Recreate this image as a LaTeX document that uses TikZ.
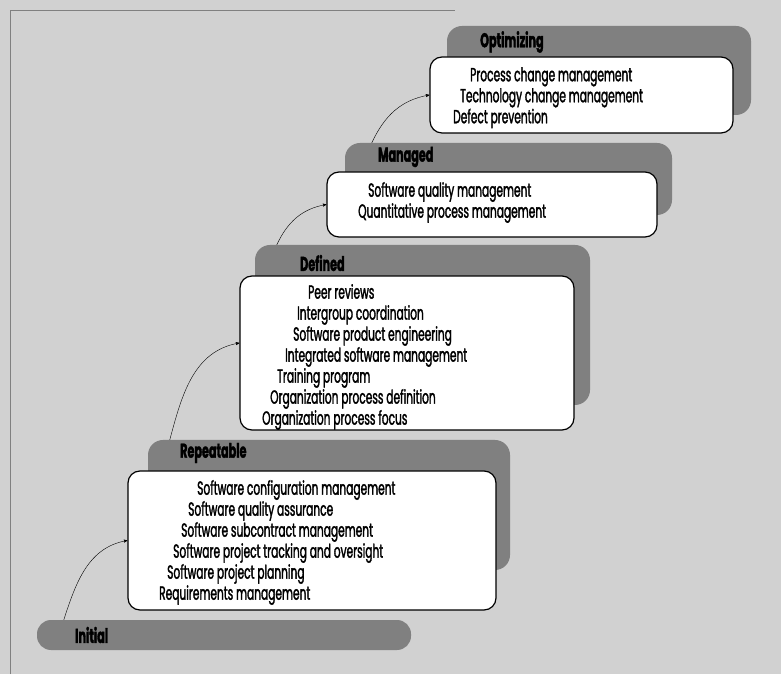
\documentclass[tikz,border=0pt]{standalone}
\usepackage{fontspec}
\setmainfont{Poppins}[FakeStretch=0.56, FakeBold=1.6]
\usetikzlibrary{arrows}

\begin{document}
\begin{tikzpicture}[x=1pt, y=1pt, font=\fontsize{19}{21}\selectfont]
	\tikzstyle{stage} = [rectangle, rounded corners=12pt, draw=black, line width=1.2pt, fill=white, inner sep=0pt]
	
	\tikzstyle{tab} = [rectangle, rounded corners=15pt, fill=black!50, inner sep=0pt]
	
	\tikzstyle{tablabel} = [anchor=west, inner sep=0pt, font=\fontsize{20}{21}\selectfont\bfseries]
	
	\tikzstyle{items} = [anchor=north west, align=left, inner sep=0pt]
	
	\tikzstyle{arrow} = [->,>=stealth', thin]
	
	% Background and frame
	\fill[black!18] (0,0) rectangle (781,674);
	\draw[black!50, thin] (10,0) -- (10,664) -- (455,664);
	
	% Tabs behind the boxes
	\node (opttab) [tab, minimum width=304pt, minimum height=89pt] at (599,603.5) {};
	\node (mantab) [tab, minimum width=327pt, minimum height=72pt] at (508.5,495) {};
	\node (deftab) [tab, minimum width=335pt, minimum height=160pt] at (422.5,349) {};
	\node (reptab) [tab, minimum width=362pt, minimum height=130pt] at (329,169) {};
	\node (init) [tab, rounded corners=14pt, minimum width=374pt, minimum height=30pt] at (224,39) {};
	
	% Level labels
	\node [tablabel] at (480,632) {Optimizing};
	\node [tablabel] at (378,517) {Managed};
	\node [tablabel] at (300,411) {Defined};
	\node [tablabel] at (180,221) {Repeatable};
	\node [tablabel] at (75,39) {Initial};
	
	% White boxes
	\node (opt) [stage, minimum width=303pt, minimum height=76pt] at (581.5,579) {};
	\node (man) [stage, minimum width=330pt, minimum height=65pt] at (492,469.5) {};
	\node (def) [stage, minimum width=334pt, minimum height=154pt] at (407,321) {};
	\node (rep) [stage, minimum width=368pt, minimum height=139pt] at (312,133.5) {};
	
	% Key process areas
	\node [items] at (453,607) {\hspace*{17pt}Process change management\\ \hspace*{7pt}Technology change management\\ Defect prevention};
	\node [items] at (358,492) {\hspace*{10pt}Software quality management\\ Quantitative process management};
	\node [items] at (262,390) {\hspace*{46pt}Peer reviews\\ \hspace*{35pt}Intergroup coordination\\ \hspace*{31pt}Software product engineering\\ \hspace*{23pt}Integrated software management\\ \hspace*{15pt}Training program\\ \hspace*{8pt}Organization process definition\\ Organization process focus};
	\node [items] at (159,194) {\hspace*{38pt}Software configuration management\\ \hspace*{29pt}Software quality assurance\\ \hspace*{22pt}Software subcontract management\\ \hspace*{14pt}Software project tracking and oversight\\ \hspace*{8pt}Software project planning\\ Requirements management};
	
	% Arrows
	\draw [arrow] ([xshift=27pt]init.north west) to[out=72, in=190] (rep.west);
	\draw [arrow] ([xshift=22pt]reptab.north west) to[out=75, in=190] ([yshift=10pt]def.west);
	\draw [arrow] ([xshift=22pt]deftab.north west) to[out=65, in=190] (man.west);
	\draw [arrow] ([xshift=27pt]mantab.north west) to[out=65, in=190] (opt.west);
\end{tikzpicture}
\end{document}
